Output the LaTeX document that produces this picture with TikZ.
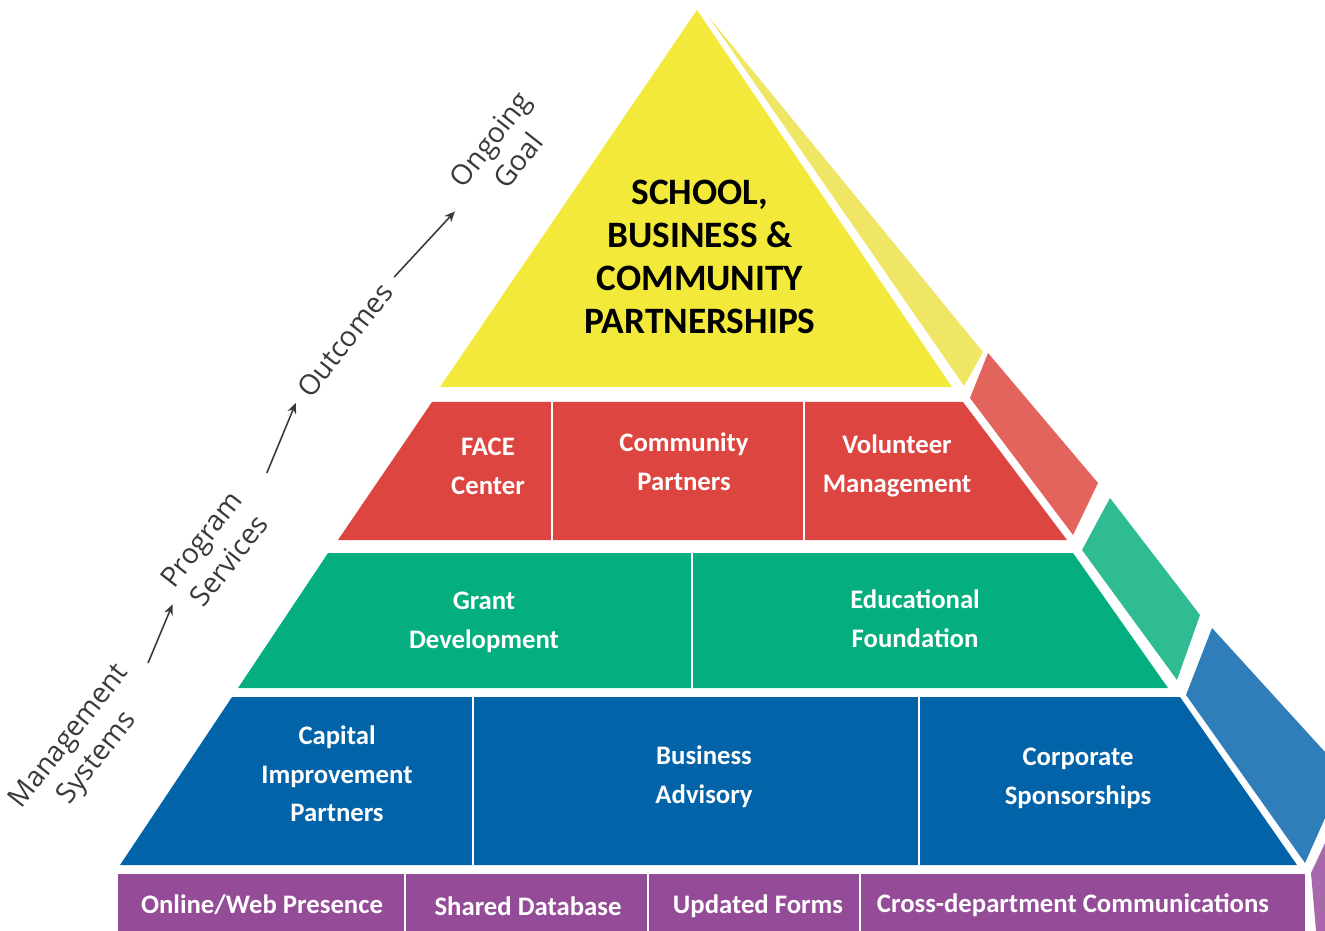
\documentclass[tikz,border=0pt]{standalone}
\usepackage{fontspec}
\setmainfont{Carlito}
\newfontfamily\sidefont{Open Sans}
\usetikzlibrary{arrows.meta}
\usepackage{xcolor}
\definecolor{pyrYellow}{HTML}{F2E93A}
\definecolor{pyrYellowSide}{HTML}{EFE666}
\definecolor{pyrRed}{HTML}{DC4540}
\definecolor{pyrRedSide}{HTML}{E2645C}
\definecolor{pyrGreen}{HTML}{04AE7E}
\definecolor{pyrGreenSide}{HTML}{2FBC93}
\definecolor{pyrBlue}{HTML}{0263A9}
\definecolor{pyrBlueSide}{HTML}{2F7EBA}
\definecolor{pyrPurple}{HTML}{954C98}
\definecolor{pyrPurpleSide}{HTML}{A868AB}
\definecolor{labelGray}{HTML}{3A3A3A}
\tikzstyle{goaltext} = [
    text=black,
    font=\fontsize{10.6}{12.2}\selectfont\bfseries,
    align=center
]
\tikzstyle{tiertext} = [
    text=white,
    font=\fontsize{7.6}{11}\selectfont\bfseries,
    align=center
]
\tikzstyle{sidelabel} = [
    text=labelGray,
    font=\sidefont\fontsize{8}{10}\selectfont,
    align=center,
    rotate=52
]
\tikzstyle{arrow} = [
    line width=0.45pt,
    -{Stealth[length=3pt,width=2.6pt]},
    draw=labelGray
]
\tikzstyle{divider} = [draw=white, line width=0.6pt]

\begin{document}
\begin{tikzpicture}[x=0.01cm, y=-0.01cm]
\useasboundingbox (0,0) rectangle (1325,931);

% Top tier (goal)
\fill[pyrYellow] (697,10) -- (952,387) -- (440,387) -- cycle;
\fill[pyrYellowSide] (708,16) -- (983,352) -- (964,386) -- cycle;
\node[goaltext] (goal) at (700,257) {SCHOOL,\\BUSINESS \&\\COMMUNITY\\PARTNERSHIPS};

% Outcomes tier (red)
\fill[pyrRed] (432,402) -- (963,402) -- (1067,540) -- (338,540) -- cycle;
\fill[pyrRedSide] (970,398) -- (988,353) -- (1098,483) -- (1073,535) -- cycle;
\draw[divider] (552,402) -- (552,540);
\draw[divider] (804,402) -- (804,540);
\node[tiertext] (face) at (488,466) {FACE\\Center};
\node[tiertext] (community) at (684,462) {Community\\Partners};
\node[tiertext] (volunteer) at (897,466) {Volunteer\\Management};

% Program services tier (green)
\fill[pyrGreen] (328,553) -- (1073,553) -- (1168,688) -- (238,688) -- cycle;
\fill[pyrGreenSide] (1082,550) -- (1110,498) -- (1200,615) -- (1177,680) -- cycle;
\draw[divider] (692,553) -- (692,688);
\node[tiertext] (grant) at (484,622) {Grant\\Development};
\node[tiertext] (foundation) at (915,619) {Educational\\Foundation};

% Partners tier (blue)
\fill[pyrBlue] (232,697) -- (1180,697) -- (1297,865) -- (120,865) -- cycle;
\fill[pyrBlueSide] (1186,695) -- (1212,628) -- (1325,752) -- (1325,818) -- (1305,863) -- cycle;
\draw[divider] (473,697) -- (473,865);
\draw[divider] (919,690) -- (919,865);
\node[tiertext] (capital) at (337,774) {Capital\\Improvement\\Partners};
\node[tiertext] (business) at (704,777) {Business\\Advisory};
\node[tiertext] (corporate) at (1078,778) {Corporate\\Sponsorships};

% Management systems (purple base)
\fill[pyrPurple] (118,874) rectangle (1305,931);
\fill[pyrPurpleSide] (1311,873) -- (1325,843) -- (1325,931) -- (1316,931) -- cycle;
\draw[divider] (405,874) -- (405,931);
\draw[divider] (648,874) -- (648,931);
\draw[divider] (860,874) -- (860,931);
\node[tiertext] (online) at (262,905) {Online/Web Presence};
\node[tiertext] (database) at (528,906) {Shared Database};
\node[tiertext] (forms) at (758,906) {Updated Forms};
\node[tiertext] (crossdept) at (1073,905) {Cross-department Communications};

% Progression along the left edge
\node[sidelabel] (mgmt) at (84,748) {Management\\Systems};
\node[sidelabel] (prog) at (215,550) {Program\\Services};
\node[sidelabel] (outc) at (345,340) {Outcomes};
\node[sidelabel] (ongo) at (504,150) {Ongoing\\Goal};
\draw[arrow, shorten <=2pt] (mgmt.east) -- (prog.west);
\draw[arrow, shorten <=7pt] (prog.east) -- (outc.west);
\draw[arrow, shorten >=3pt] (outc.east) -- (ongo.west);
\end{tikzpicture}
\end{document}
